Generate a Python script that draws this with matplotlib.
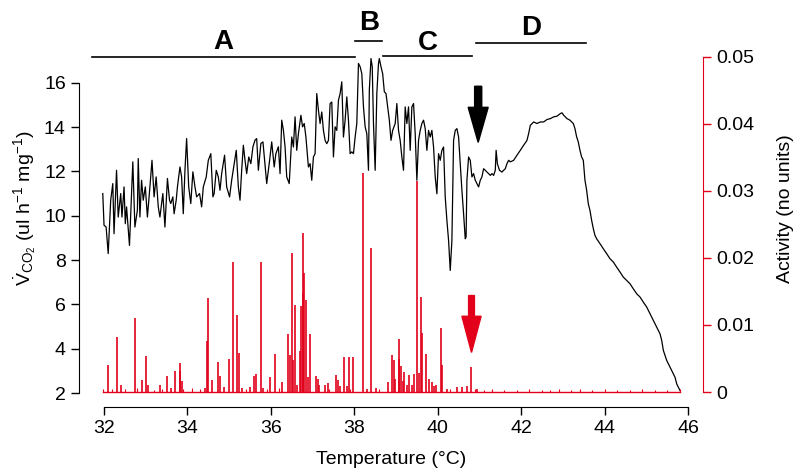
import numpy as np
import matplotlib
matplotlib.use('Agg')
import matplotlib.pyplot as plt

plt.rcParams['font.family'] = ['Liberation Sans', 'DejaVu Sans']
plt.rcParams['mathtext.fontset'] = 'custom'
plt.rcParams['mathtext.rm'] = 'Liberation Sans'
plt.rcParams['mathtext.it'] = 'Liberation Sans:italic'

RED = '#e2001a'

# CO2 emission trace
temp_co2 = [31.97, 32.00, 32.05, 32.10, 32.16, 32.21, 32.24, 32.30, 32.34, 32.40,
            32.43, 32.48, 32.51, 32.54, 32.61, 32.69, 32.74, 32.80, 32.82, 32.86,
            32.90, 32.94, 32.99, 33.04, 33.10, 33.15, 33.20, 33.25, 33.30, 33.34,
            33.41, 33.46, 33.52, 33.57, 33.60, 33.65, 33.68, 33.73, 33.76, 33.82,
            33.86, 33.90, 33.94, 33.98, 34.03, 34.08, 34.13, 34.18, 34.22, 34.29,
            34.34, 34.38, 34.45, 34.50, 34.56, 34.61, 34.64, 34.69, 34.74, 34.78,
            34.82, 34.89, 34.94, 35.01, 35.06, 35.12, 35.17, 35.22, 35.26, 35.30,
            35.34, 35.38, 35.42, 35.47, 35.52, 35.57, 35.62, 35.66, 35.70, 35.76,
            35.81, 35.85, 35.90, 35.97, 36.02, 36.08, 36.12, 36.18, 36.22, 36.26,
            36.30, 36.34, 36.38, 36.44,
            36.50, 36.54, 36.58, 36.62, 36.66, 36.72, 36.76, 36.80, 36.84, 36.90,
            36.94, 36.98, 37.02, 37.06, 37.10, 37.14, 37.18, 37.22, 37.26, 37.30,
            37.34, 37.38, 37.42, 37.46, 37.50, 37.54, 37.58, 37.62, 37.66, 37.70,
            37.74, 37.78, 37.82, 37.86, 37.90, 37.94, 37.98, 38.02, 38.06, 38.10,
            38.14, 38.18, 38.22, 38.26, 38.30, 38.34, 38.36, 38.40, 38.43, 38.46,
            38.50, 38.54, 38.58, 38.60, 38.64, 38.68, 38.72, 38.76, 38.80, 38.84,
            38.88, 38.92, 38.98, 39.02, 39.06, 39.10, 39.14, 39.18, 39.22, 39.26,
            39.30, 39.34, 39.38, 39.42, 39.46, 39.50, 39.54, 39.58, 39.62, 39.66,
            39.70, 39.74, 39.78, 39.82, 39.86, 39.90, 39.94, 39.98, 40.02, 40.06,
            40.10, 40.14, 40.18, 40.22, 40.26, 40.30, 40.34, 40.38, 40.42, 40.46,
            40.50, 40.54, 40.58, 40.62, 40.66, 40.68,
            40.70, 40.74, 40.78, 40.82, 40.86, 40.90, 40.94, 40.98, 41.02, 41.06,
            41.10, 41.14, 41.18, 41.22, 41.26, 41.30, 41.34, 41.38, 41.40, 41.43,
            41.48, 41.54, 41.58, 41.62, 41.66, 41.70, 41.74, 41.82, 41.90, 41.98,
            42.06, 42.14, 42.18, 42.22, 42.30, 42.38, 42.46, 42.54, 42.62, 42.70,
            42.78, 42.86, 42.94, 42.98, 43.02, 43.10, 43.17, 43.25, 43.29, 43.33,
            43.37, 43.41, 43.45, 43.49, 43.53, 43.57, 43.61, 43.65, 43.69, 43.73,
            43.77, 43.81, 43.89, 43.97, 44.05, 44.13, 44.21, 44.29, 44.37, 44.45,
            44.53, 44.61, 44.69, 44.77, 44.85, 44.93, 45.01, 45.09, 45.17, 45.25,
            45.33, 45.37, 45.41, 45.49, 45.57, 45.65, 45.69, 45.73, 45.77, 45.81]

vco2 = [11.00, 9.57, 9.49, 8.29, 10.70, 11.45, 9.19, 12.05, 9.94, 11.00,
        9.94, 11.30, 9.64, 10.40, 8.66, 12.43, 9.49, 10.25, 12.58, 9.94,
        11.60, 10.70, 11.30, 9.94, 11.30, 12.50, 10.85, 11.75, 10.40, 9.94,
        11.00, 9.49, 11.68, 10.70, 10.55, 10.85, 10.09, 10.70, 11.30, 12.20,
        11.75, 10.09, 12.05, 13.48, 11.30, 10.55, 11.98, 11.30, 10.85, 11.00,
        10.40, 11.30, 11.75, 12.50, 12.80, 10.85, 11.00, 12.05, 11.75, 11.15,
        11.90, 12.73, 11.30, 10.85, 11.60, 12.35, 12.95, 11.30, 10.70, 12.05,
        13.18, 12.50, 11.90, 12.65, 12.35, 13.11, 13.41, 13.48, 12.05, 13.26,
        13.33, 12.50, 11.45, 12.50, 13.33, 12.20, 12.80, 13.11, 11.90, 14.31,
        13.86, 13.11, 11.75, 11.45,
        13.55, 13.10, 14.46, 12.95, 13.70, 14.53, 14.01, 14.16, 13.55, 12.20,
        12.35, 11.60, 12.65, 12.80, 15.51, 14.76, 14.16, 14.68, 13.85, 13.40,
        13.25, 13.40, 15.06, 15.13, 12.65, 14.01, 13.85, 15.21, 15.51, 16.04,
        13.55, 14.31, 15.36, 14.31, 12.80, 12.88, 12.80, 13.55, 14.16, 16.87,
        16.72, 16.41, 14.91, 14.01, 13.70, 12.05, 15.66, 17.09, 16.72, 14.16,
        12.05, 15.51, 16.87, 17.09, 16.72, 16.41, 15.59, 15.51, 14.91, 14.31,
        13.40, 13.85, 14.16, 15.06, 13.85, 13.40, 12.65, 12.05, 14.91, 14.16,
        14.91, 12.95, 14.91, 15.06, 13.70, 11.60, 13.40, 13.85, 14.16, 14.31,
        13.93, 12.95, 13.85, 13.55, 13.85, 13.10, 11.75, 10.99, 12.80, 12.50,
        12.95, 13.10, 10.84, 9.79, 8.89, 7.53, 8.89, 13.40, 13.85, 13.93,
        13.55, 12.35, 11.14, 10.09, 8.96, 9.04,
        11.60, 12.65, 12.50, 11.75, 11.90, 11.60, 11.45, 11.30, 11.60, 11.75,
        12.12, 12.05, 11.97, 11.90, 11.82, 11.90, 11.82, 12.05, 12.95, 12.35,
        12.05, 11.97, 12.05, 12.12, 12.35, 12.50, 12.43, 12.50, 12.73, 12.95,
        13.18, 13.40, 13.71, 14.08, 14.23, 14.16, 14.23, 14.23, 14.34, 14.38,
        14.46, 14.49, 14.61, 14.64, 14.53, 14.38, 14.31, 14.16, 13.93, 13.56,
        13.33, 12.95, 12.65, 12.50, 11.60, 11.15, 10.54, 10.24, 9.79, 9.42,
        9.11, 8.96, 8.74, 8.51, 8.29, 8.06, 7.91, 7.68, 7.46, 7.23,
        7.08, 6.93, 6.70, 6.48, 6.33, 6.10, 5.88, 5.58, 5.28, 4.97,
        4.67, 4.37, 3.92, 3.47, 3.17, 2.86, 2.71, 2.41, 2.26, 2.11]

# activity spikes
temp_act = [32.10, 32.30, 32.40, 32.74, 32.91, 33.00, 33.06, 33.34, 33.50, 33.61,
            33.70, 33.81, 33.82, 33.86, 34.42, 34.46, 34.49, 34.60, 34.73, 34.77,
            34.88, 34.99, 35.10, 35.18, 35.24, 35.30, 35.50, 35.60, 35.64, 35.77,
            35.82, 35.99, 36.11, 36.26, 36.40, 36.46, 36.50, 36.54, 36.58, 36.62,
            36.70, 36.73, 36.76, 36.78, 36.80, 36.84, 36.90, 36.94, 37.08, 37.12,
            37.16, 37.30, 37.36, 37.56, 37.60, 37.66, 37.76, 37.82, 37.88, 37.98,
            38.20, 38.30, 38.40, 38.52, 38.80, 38.90, 38.95, 38.98,
            39.06, 39.08, 39.12, 39.16, 39.20, 39.26, 39.30, 39.39, 39.44, 39.50,
            39.54, 39.59, 39.63, 39.71, 39.80, 39.86, 39.90, 39.95, 40.08, 40.11,
            40.22, 40.47, 40.58, 40.71, 40.79, 40.94]
activity = [0.0040, 0.0082, 0.0010, 0.0110, 0.0018, 0.0053, 0.0011, 0.0011, 0.0024, 0.0006,
            0.0031, 0.0031, 0.0044, 0.0016, 0.0006, 0.0076, 0.0141, 0.0018, 0.0045, 0.0024,
            0.0008, 0.0049, 0.0194, 0.0115, 0.0058, 0.0006, 0.0008, 0.0024, 0.0027, 0.0194,
            0.0006, 0.0022, 0.0056, 0.0015, 0.0087, 0.0055, 0.0207, 0.0048, 0.0130, 0.0011,
            0.0061, 0.0128, 0.0148, 0.0238, 0.0178, 0.0137, 0.0022, 0.0087, 0.0024, 0.0020,
            0.0011, 0.0011, 0.0013, 0.0025, 0.0018, 0.0009, 0.0052, 0.0009, 0.0052, 0.0052,
            0.0327, 0.0005, 0.0215, 0.0006, 0.0015, 0.0055, 0.0048, 0.0020,
            0.0079, 0.0049, 0.0039, 0.0016, 0.0030, 0.0011, 0.0026, 0.0010, 0.0027, 0.0315,
            0.0029, 0.0142, 0.0088, 0.0056, 0.0019, 0.0015, 0.0009, 0.0011, 0.0096, 0.0041,
            0.0005, 0.0008, 0.0008, 0.0009, 0.0038, 0.0005]

# small fluctuations of the activity baseline
temp_base = [31.97, 32.2, 32.5, 32.8, 33.2, 33.4, 33.9, 34.1, 34.3, 35.4,
             35.9, 36.2, 37.4, 37.9, 38.6, 40.3, 40.9, 41.1, 41.3, 41.6,
             41.9, 42.2, 42.5, 42.7, 42.9, 43.2, 43.4, 43.7, 44.0, 44.3,
             44.6, 44.9, 45.2, 45.5, 45.8]
act_base = [0.0004, 0.0005, 0.0004, 0.0006, 0.0003, 0.0005, 0.0004, 0.0006, 0.0005, 0.0004,
            0.0005, 0.0006, 0.0004, 0.0005, 0.0004, 0.0005, 0.0004, 0.0003, 0.0004, 0.0003,
            0.0003, 0.0004, 0.0003, 0.0003, 0.0004, 0.0003, 0.0004, 0.0003, 0.0004, 0.0003,
            0.0003, 0.0004, 0.0003, 0.0003, 0.0004]

# phase labels: (name, line start, line end, line height, text height)
phase_names = ['A', 'B', 'C', 'D']
phase_start = [31.71, 38.02, 38.69, 40.92]
phase_end = [38.02, 38.67, 40.82, 43.56]
phase_line_y = [17.18, 17.90, 17.22, 17.80]
phase_text_y = [17.83, 18.69, 17.79, 18.46]

fig = plt.figure(figsize=(7.94, 4.70), dpi=100)
ax = fig.add_axes([0.0995, 0.134, 0.7859, 0.8447])
ax2 = ax.twinx()

ax.plot(temp_co2, vco2, color='black', lw=0.9)
ax2.vlines(temp_act, 0, activity, color=RED, lw=1.2)
ax2.vlines(temp_base, 0, act_base, color=RED, lw=0.8)
ax2.plot([temp_co2[0], temp_co2[-1]], [0, 0], color=RED, lw=1.0)

ax.set_xlim(31.40, 46.36)
ax.set_ylim(1.37, 19.28)
ax2.set_ylim(-0.00224, 0.0570)

for s in ['top']:
    ax.spines[s].set_visible(False)
    ax2.spines[s].set_visible(False)
ax2.spines['left'].set_visible(False)
ax2.spines['bottom'].set_visible(False)
ax.spines['right'].set_visible(False)
ax.spines['left'].set_bounds(2, 16)
ax.spines['bottom'].set_bounds(32, 46)
ax2.spines['right'].set_bounds(0, 0.05)
ax2.spines['right'].set_color(RED)

ax.set_xticks(range(32, 47, 2))
ax.set_yticks(range(2, 17, 2))
ax2.set_yticks([0, 0.01, 0.02, 0.03, 0.04, 0.05])
ax2.set_yticklabels(['0', '0.01', '0.02', '0.03', '0.04', '0.05'])
ax.tick_params(labelsize=14, length=6, width=1)
ax2.tick_params(labelsize=14, length=6, width=1, color=RED)

ax.set_xlabel('Temperature (°C)', fontsize=14, labelpad=10)
ax.set_ylabel(r'$\dot{\mathrm{V}}_{\mathrm{CO_2}}$ (ul h$^{-1}$ mg$^{-1}$)', fontsize=14)
ax2.set_ylabel('Activity (no units)', fontsize=14, labelpad=16)

for name, x0, x1, ly, ty in zip(phase_names, phase_start, phase_end, phase_line_y, phase_text_y):
    ax.plot([x0, x1], [ly, ly], color='black', lw=1.2, clip_on=False)
    ax.text((x0 + x1) / 2, ty, name, fontsize=20, fontweight='bold', ha='center', va='center')

# arrows marking the onset of the collapse
ax.arrow(40.97, 15.84, 0, -2.53, width=0.17, head_width=0.48, head_length=1.58,
         length_includes_head=True, color='black')
ax2.arrow(40.81, 0.0144, 0, -0.0085, width=0.14, head_width=0.46, head_length=0.0054,
          length_includes_head=True, color=RED)

fig.savefig('out.png', dpi=100)
